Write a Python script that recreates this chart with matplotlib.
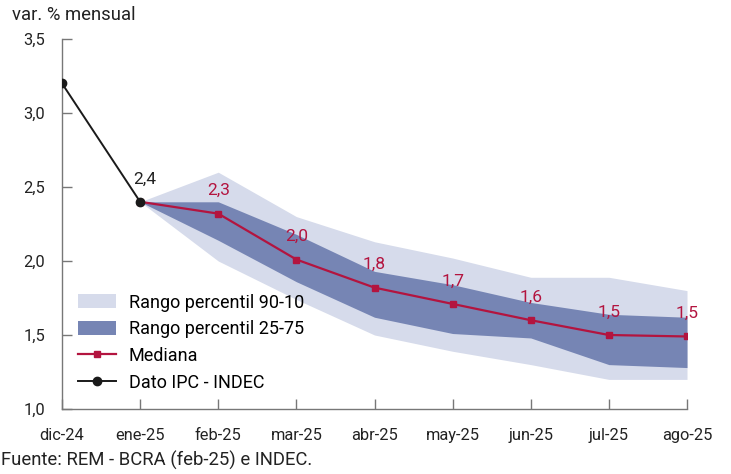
import matplotlib
matplotlib.use("Agg")
import matplotlib.pyplot as plt
from matplotlib.patches import Patch
from matplotlib.lines import Line2D

plt.rcParams['font.family'] = ['Roboto', 'DejaVu Sans']

months = ["dic-24", "ene-25", "feb-25", "mar-25", "abr-25", "may-25", "jun-25", "jul-25", "ago-25"]
ipc_x = [0, 1]
ipc_values = [3.2, 2.4]
fc_x = [1, 2, 3, 4, 5, 6, 7, 8]
median = [2.4, 2.32, 2.01, 1.82, 1.71, 1.60, 1.50, 1.49]
median_labels = ["2,3", "2,0", "1,8", "1,7", "1,6", "1,5", "1,5"]
p90 = [2.4, 2.60, 2.30, 2.13, 2.02, 1.89, 1.89, 1.80]
p10 = [2.4, 2.00, 1.74, 1.50, 1.39, 1.30, 1.20, 1.20]
p75 = [2.4, 2.40, 2.18, 1.93, 1.84, 1.72, 1.64, 1.62]
p25 = [2.4, 2.14, 1.86, 1.62, 1.51, 1.48, 1.30, 1.28]
yticks = [1.0, 1.5, 2.0, 2.5, 3.0, 3.5]
ytick_labels = ["1,0", "1,5", "2,0", "2,5", "3,0", "3,5"]

light = "#d6dbeb"
dark = "#7685b4"
red = "#b3143f"
grey = "#777777"
txt = "#222222"

fig = plt.figure(figsize=(7.31, 4.74), dpi=100)
ax = fig.add_axes([62/731, 1-409/474, (687-62)/731, (409-39)/474])

ax.fill_between(fc_x, p10, p90, color=light, lw=0)
ax.fill_between(fc_x, p25, p75, color=dark, lw=0)
ax.plot(fc_x, median, color=red, lw=1.6, marker='s', ms=5, zorder=3)
ax.plot(ipc_x, ipc_values, color="#1a1a1a", lw=1.4, marker='o', ms=6, zorder=4)

ax.text(1.06, 2.55, "2,4", color=txt, fontsize=12.5, ha='center', va='center')
for x, y, lab in zip(fc_x[1:], median[1:], median_labels):
    ax.text(x, y + 0.155, lab, color=red, fontsize=12.5, ha='center', va='center')

ax.set_xlim(0, 8)
ax.set_ylim(1.0, 3.5)
ax.set_xticks(range(len(months)))
ax.set_xticklabels(months, fontsize=11.8, color=txt)
ax.set_yticks(yticks)
ax.set_yticklabels(ytick_labels, fontsize=11.8, color=txt)
ax.tick_params(axis='both', direction='in', length=7, color=grey, width=1)
ax.tick_params(axis='x', pad=14)
ax.tick_params(axis='y', pad=12)
for s in ['top', 'right']:
    ax.spines[s].set_visible(False)
for s in ['left', 'bottom']:
    ax.spines[s].set_color(grey)
    ax.spines[s].set_linewidth(1)

handles = [
    Patch(facecolor=light, edgecolor='none', label="Rango percentil 90-10"),
    Patch(facecolor=dark, edgecolor='none', label="Rango percentil 25-75"),
    Line2D([0], [0], color=red, lw=1.6, marker='s', ms=5, label="Mediana"),
    Line2D([0], [0], color="#1a1a1a", lw=1.4, marker='o', ms=6, label="Dato IPC - INDEC"),
]
ax.legend(handles=handles, loc='lower left', bbox_to_anchor=(0.0, 0.003), frameon=False,
          fontsize=13, handlelength=2.1, handleheight=0.8, labelspacing=0.48, handletextpad=0.7)

fig.text(12/731, 1-15/474, "var. % mensual", fontsize=13.3, color=txt, va='center', ha='left')
fig.text(1/731, 1-460/474, "Fuente: REM - BCRA (feb-25) e INDEC.", fontsize=13.3, color=txt, va='center', ha='left')

fig.savefig("out.png", dpi=100)
